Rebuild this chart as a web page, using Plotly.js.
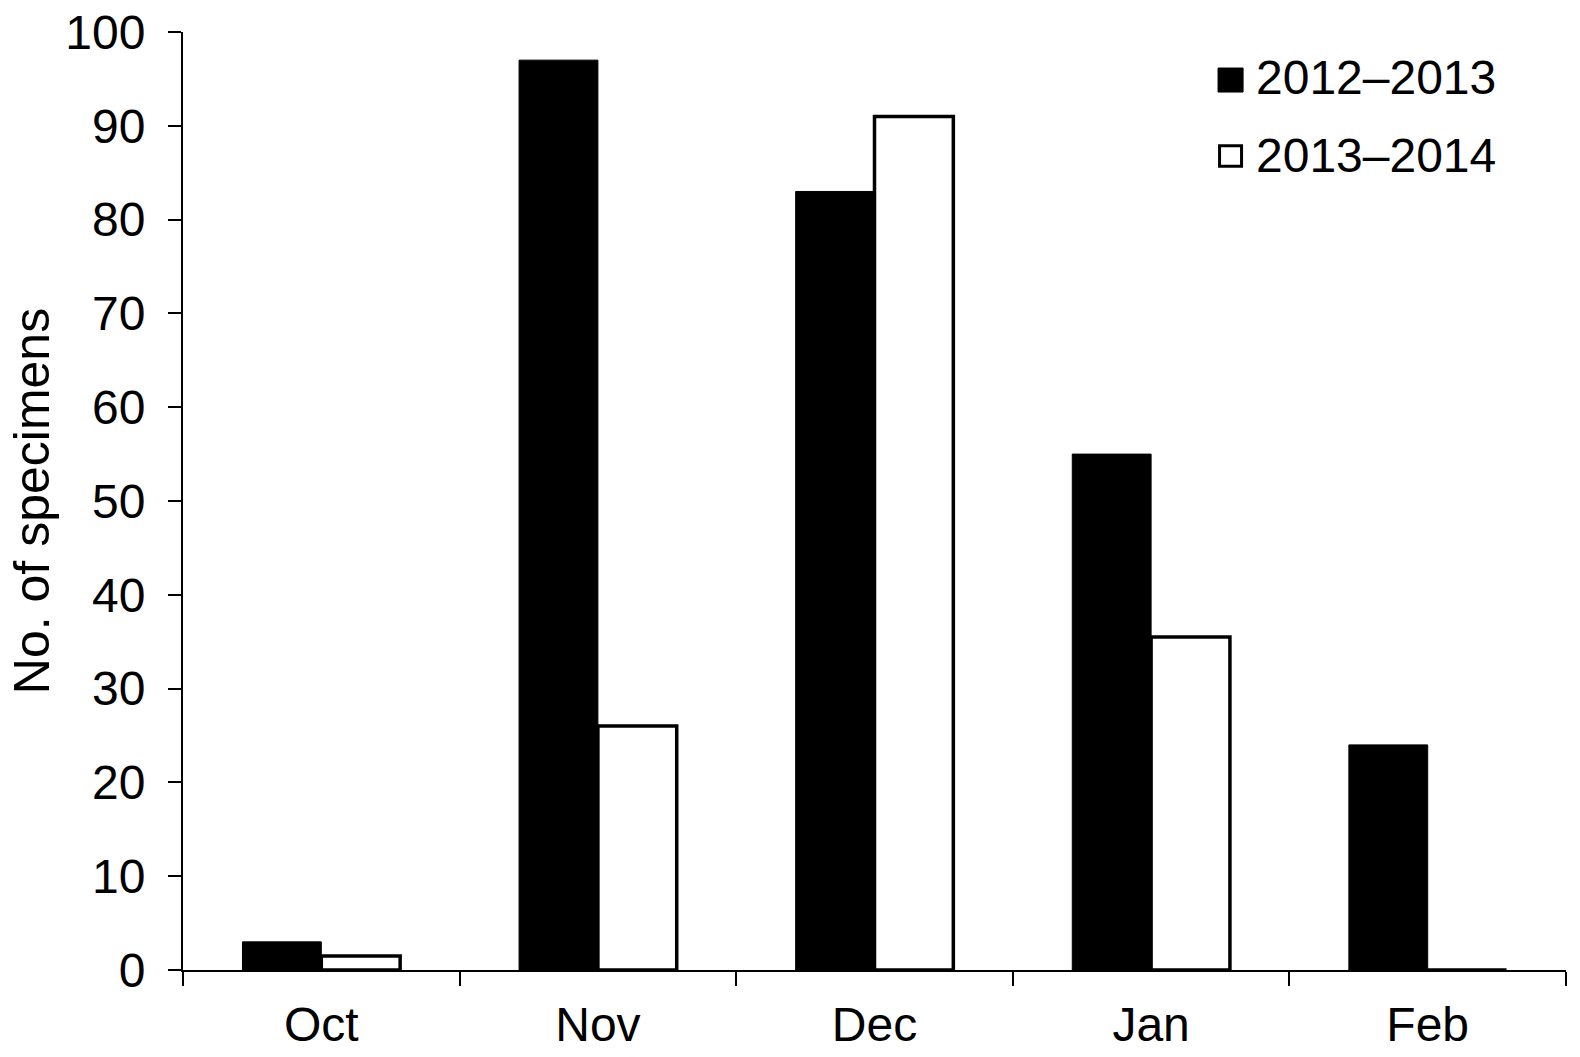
<!DOCTYPE html>
<html>
<head>
<meta charset="utf-8">
<script src="https://cdn.plot.ly/plotly-3.0.1.min.js"></script>
<style>html,body{margin:0;padding:0;background:#fff;}</style>
</head>
<body>
<div id="chart" style="width:1580px;height:1057px;"></div>
<script>
const months = ['Oct', 'Nov', 'Dec', 'Jan', 'Feb'];
const season1Name = '2012\u20132013';
const season2Name = '2013\u20132014';
const season1 = [3, 97, 83, 55, 24];
const season2 = [1.5, 26, 91, 35.5, 0];
const yTicks = [0, 10, 20, 30, 40, 50, 60, 70, 80, 90, 100];

const FONT = 'Liberation Sans, Arial, Helvetica, sans-serif';

const traces = [
  {
    type: 'bar', name: season1Name, x: months, y: season1,
    marker: {color: '#000000', line: {color: '#000000', width: 1}},
    showlegend: false, hoverinfo: 'x+y+name'
  },
  {
    type: 'bar', name: season2Name, x: months, y: season2,
    marker: {color: '#ffffff', line: {color: '#000000', width: 3.5}},
    showlegend: false, hoverinfo: 'x+y+name'
  }
];

const layout = {
  width: 1580, height: 1057, autosize: false,
  paper_bgcolor: '#ffffff', plot_bgcolor: '#ffffff',
  margin: {l: 183, r: 14, t: 32, b: 87},
  barmode: 'group', bargap: 0.43, bargroupgap: 0,
  font: {family: FONT, size: 48, color: '#000000'},
  xaxis: {
    type: 'category', range: [-0.5, 4.5],
    showline: true, linecolor: '#000000', linewidth: 2,
    ticks: 'outside', tickson: 'boundaries', ticklen: 14, tickwidth: 2, tickcolor: '#000000',
    showgrid: false, zeroline: false,
    tickfont: {family: FONT, size: 48, color: '#000000'},
    ticklabelstandoff: 11,
    automargin: false
  },
  yaxis: {
    range: [0, 100], tickvals: yTicks,
    showline: true, linecolor: '#000000', linewidth: 2,
    ticks: 'outside', ticklen: 13, tickwidth: 2, tickcolor: '#000000',
    showgrid: false, zeroline: false,
    tickfont: {family: FONT, size: 48, color: '#000000'},
    ticklabelstandoff: 13,
    title: {text: 'No. of specimens', font: {family: FONT, size: 50, color: '#000000'}, standoff: 0},
    automargin: false
  },
  shapes: [
    {type: 'rect', xref: 'paper', yref: 'paper', x0: 0.7484, x1: 0.7665, y0: 0.936, y1: 0.9616,
     fillcolor: '#000000', line: {color: '#000000', width: 1}},
    {type: 'rect', xref: 'paper', yref: 'paper', x0: 0.7495, x1: 0.7654, y0: 0.857, y1: 0.8786,
     fillcolor: '#ffffff', line: {color: '#000000', width: 3}}
  ],
  annotations: [
    {xref: 'paper', yref: 'paper', x: 0.7745, y: 0.951, xanchor: 'left', yanchor: 'middle',
     text: season1Name, showarrow: false, font: {family: FONT, size: 48, color: '#000000'}},
    {xref: 'paper', yref: 'paper', x: 0.7745, y: 0.8684, xanchor: 'left', yanchor: 'middle',
     text: season2Name, showarrow: false, font: {family: FONT, size: 48, color: '#000000'}}
  ]
};

Plotly.newPlot('chart', traces, layout, {displayModeBar: false, staticPlot: true});
</script>
</body>
</html>
